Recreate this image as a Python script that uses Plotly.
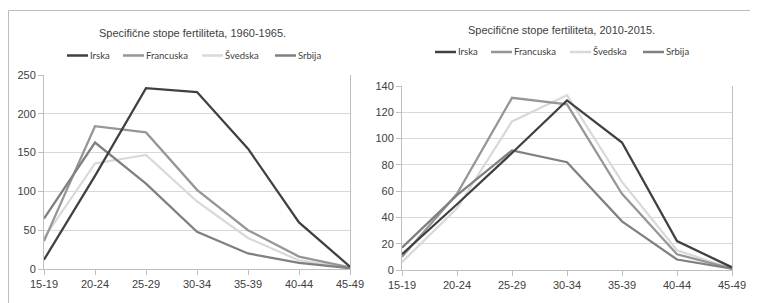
import plotly.graph_objects as go

# The page body has an 8px default margin; the figure fills the rest of the window.
OFF = 8
W, H = 758 - OFF, 303 - OFF

categories = ["15-19", "20-24", "25-29", "30-34", "35-39", "40-44", "45-49"]
series_names = ["Irska", "Francuska", "Švedska", "Srbija"]
series_colors = ["#404040", "#969696", "#d9d9d9", "#808080"]

# 1960-1965
irska_60 = [12, 120, 233, 228, 155, 60, 3]
francuska_60 = [36, 184, 176, 102, 50, 16, 2]
svedska_60 = [40, 136, 147, 87, 40, 11, 1]
srbija_60 = [65, 163, 110, 48, 20, 8, 1]

# 2010-2015
irska_10 = [12, 50, 89, 129, 97, 22, 2]
francuska_10 = [10, 58, 131, 126, 58, 12, 1]
svedska_10 = [6, 47, 113, 133, 67, 15, 1]
srbija_10 = [17, 57, 91, 82, 37, 8, 1]

title_60 = "Specifične stope fertiliteta, 1960-1965."
title_10 = "Specifične stope fertiliteta, 2010-2015."

left_ticks = [0, 50, 100, 150, 200, 250]
right_ticks = [0, 20, 40, 60, 80, 100, 120, 140]


def px(x):
    """window pixel x -> paper x"""
    return (x - OFF) / W


def py(y):
    """window pixel y -> paper y"""
    return 1 - (y - OFF) / H


fig = go.Figure()

data_60 = [irska_60, francuska_60, svedska_60, srbija_60]
data_10 = [irska_10, francuska_10, svedska_10, srbija_10]

order = [2, 1, 3, 0]
for i in order:
    fig.add_trace(go.Scatter(x=categories, y=data_60[i], mode="lines", name=series_names[i],
                             line=dict(color=series_colors[i], width=2.25),
                             xaxis="x", yaxis="y", showlegend=False))
for i in order:
    fig.add_trace(go.Scatter(x=categories, y=data_10[i], mode="lines", name=series_names[i],
                             line=dict(color=series_colors[i], width=2.25),
                             xaxis="x2", yaxis="y2", showlegend=False))

tick_font = dict(family="Liberation Sans, Arial", size=11, color="#404040")
axis_common = dict(showline=True, linecolor="#bfbfbf", linewidth=1,
                   ticks="outside", ticklen=5, tickcolor="#bfbfbf",
                   tickfont=tick_font, zeroline=False, fixedrange=True,
                   automargin=False)

fig.update_layout(
    template="none",
    width=W, height=H,
    margin=dict(l=0, r=0, t=0, b=0, pad=0),
    paper_bgcolor="white", plot_bgcolor="white",
    xaxis=dict(domain=[px(44), px(350)], anchor="y", type="category",
               range=[0, 6], showgrid=False, **axis_common),
    yaxis=dict(domain=[py(269), py(75)], anchor="x", range=[0, 250],
               tickvals=left_ticks, showgrid=True, gridcolor="#d9d9d9", gridwidth=1,
               mirror=True, **axis_common),
    xaxis2=dict(domain=[px(402), px(732)], anchor="y2", type="category",
                range=[0, 6], showgrid=False, **axis_common),
    yaxis2=dict(domain=[py(270), py(86)], anchor="x2", range=[0, 140],
                tickvals=right_ticks, showgrid=True, gridcolor="#d9d9d9", gridwidth=1,
                mirror=True, **axis_common),
)

shapes = []
annotations = []

# chart frame (partially visible Excel chart borders)
shapes.append(dict(type="line", xref="paper", yref="paper",
                   x0=px(8.5), x1=px(758), y0=py(10.5), y1=py(10.5),
                   line=dict(color="#bdbdbd", width=1)))
shapes.append(dict(type="line", xref="paper", yref="paper",
                   x0=px(8.5), x1=px(8.5), y0=py(10.5), y1=py(303),
                   line=dict(color="#bdbdbd", width=1)))

title_font = dict(family="Liberation Sans, Arial", size=11, color="#404040")
annotations.append(dict(text=title_60, x=px(192), y=py(33), xref="paper", yref="paper",
                        xanchor="center", yanchor="middle", showarrow=False, font=title_font))
annotations.append(dict(text=title_10, x=px(561), y=py(30), xref="paper", yref="paper",
                        xanchor="center", yanchor="middle", showarrow=False, font=title_font))

# legends
legend_font = dict(family="Lato, Noto Sans", size=9.5, color="#404040")
item_offsets = [0, 56, 135, 208]
swatch_len = 21
for start_x, ly in [(67, 55.5), (435, 52)]:
    for name, color, off in zip(series_names, series_colors, item_offsets):
        x0 = start_x + off
        shapes.append(dict(type="line", xref="paper", yref="paper",
                           x0=px(x0), x1=px(x0 + swatch_len), y0=py(ly), y1=py(ly),
                           line=dict(color=color, width=2.5)))
        annotations.append(dict(text=name, x=px(x0 + swatch_len), y=py(ly),
                                xref="paper", yref="paper", xanchor="left", yanchor="middle",
                                showarrow=False, font=legend_font))

fig.update_layout(shapes=shapes, annotations=annotations)

fig.write_html("out.html", config={"displayModeBar": False})
